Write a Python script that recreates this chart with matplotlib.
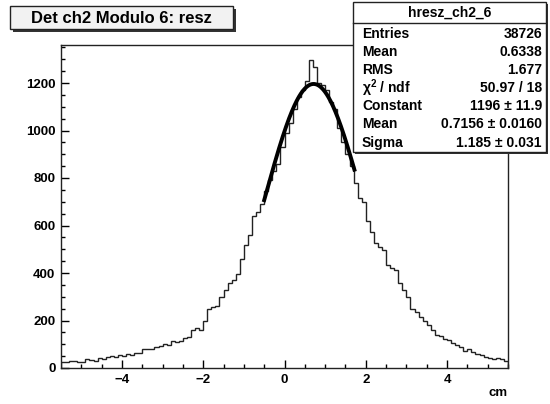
import numpy as np
import matplotlib
matplotlib.use('Agg')
import matplotlib.pyplot as plt
from matplotlib.patches import Rectangle

# histogram: 110 bins of 0.1 cm from -5.5 to 5.5
x_lo, x_hi = -5.5, 5.5
counts = [
    25, 24, 30, 30, 27, 25, 36, 33, 30, 42,
    40, 45, 50, 46, 55, 52, 60, 56, 62, 65,
    78, 78, 78, 88, 92, 102, 98, 112, 108, 115,
    126, 132, 160, 168, 158, 200, 250, 258, 262, 300,
    330, 356, 370, 395, 460, 520, 560, 640, 655, 690,
    745, 790, 830, 860, 930, 990, 1030, 1090, 1140, 1170,
    1210, 1296, 1266, 1199, 1190, 1170, 1120, 1090, 1010, 950,
    900, 850, 777, 715, 698, 621, 571, 528, 510, 495,
    432, 420, 411, 360, 330, 300, 250, 235, 215, 200,
    180, 162, 140, 135, 122, 118, 104, 98, 87, 70,
    82, 68, 60, 55, 48, 44, 38, 42, 36, 28,
]

# gaus fit parameters from the stats box
fit_const, fit_mean, fit_sigma = 1196.0, 0.7156, 1.185
fit_range = (-0.5, 1.72)

stats_title = 'hresz_ch2_6'
stats_names = ['Entries', 'Mean', 'RMS', r'$\chi^{2}$ / ndf', 'Constant', 'Mean', 'Sigma']
stats_values = ['38726', '0.6338', '1.677', '50.97 / 18',
                '1196 ± 11.9', '0.7156 ± 0.0160', '1.185 ± 0.031']

plt.rcParams['font.family'] = ['Liberation Sans', 'DejaVu Sans']
plt.rcParams['font.weight'] = 'bold'
plt.rcParams['mathtext.default'] = 'regular'

W, H = 550, 404
fig = plt.figure(figsize=(W / 100, H / 100), dpi=100)
fig.patch.set_facecolor('white')


def px(x, y):
    return x / W, 1 - y / H


ax = fig.add_axes([61 / W, 1 - 368 / H, (508 - 61) / W, (368 - 45) / H])
edges = np.linspace(x_lo, x_hi, len(counts) + 1)
ax.stairs(counts, edges, color='#222222', lw=1.0)

xf = np.linspace(fit_range[0], fit_range[1], 200)
ax.plot(xf, fit_const * np.exp(-0.5 * ((xf - fit_mean) / fit_sigma) ** 2),
        color='black', lw=2.8)

ax.set_xlim(x_lo, x_hi)
ax.set_ylim(0, 1360)
ax.set_xticks([-4, -2, 0, 2, 4])
ax.set_xticks(np.arange(-5.0, 5.51, 0.5), minor=True)
ax.set_yticks(range(0, 1201, 200))
ax.set_yticks(range(0, 1351, 50), minor=True)
ax.tick_params(direction='in', length=6, width=1, labelsize=9.5, pad=4)
ax.tick_params(which='minor', direction='in', length=3, width=1)
ax.tick_params(top=False, right=False)
for lab in ax.get_xticklabels() + ax.get_yticklabels():
    lab.set_fontweight('bold')
for s in ax.spines.values():
    s.set_linewidth(1.0)
    s.set_color('#222222')

fig.text(*px(508, 393), 'cm', ha='right', va='center', fontsize=9.5, fontweight='bold')

# title box with shadow
x0, y0, x1, y1 = 10, 6, 233, 29
fig.patches.append(Rectangle(px(x0 + 3, y1 + 3), (x1 - x0) / W, (y1 - y0) / H,
                             transform=fig.transFigure, facecolor='#333333',
                             edgecolor='none', zorder=5))
fig.patches.append(Rectangle(px(x0, y1), (x1 - x0) / W, (y1 - y0) / H,
                             transform=fig.transFigure, facecolor='#f2f2f2',
                             edgecolor='#222222', lw=1, zorder=6))
fig.text(*px((x0 + x1) / 2, (y0 + y1) / 2 + 1), 'Det ch2 Modulo 6: resz',
         ha='center', va='center', fontsize=12, fontweight='bold', zorder=7)

# stats box
sx0, sy0, sx1, sy1 = 353, 2, 546, 152
fig.patches.append(Rectangle(px(sx0 + 2, sy1 + 2), (sx1 - sx0) / W, (sy1 - sy0) / H,
                             transform=fig.transFigure, facecolor='#333333',
                             edgecolor='none', zorder=5))
fig.patches.append(Rectangle(px(sx0, sy1), (sx1 - sx0) / W, (sy1 - sy0) / H,
                             transform=fig.transFigure, facecolor='white',
                             edgecolor='#222222', lw=1, zorder=6))
fig.add_artist(plt.Line2D([sx0 / W, sx1 / W], [1 - 23 / H, 1 - 23 / H],
                          transform=fig.transFigure, color='#222222', lw=1, zorder=7))
fig.text(*px((sx0 + sx1) / 2, 13), stats_title, ha='center', va='center',
         fontsize=10, fontweight='bold', zorder=7)
for i, (name, val) in enumerate(zip(stats_names, stats_values)):
    yy = 33.5 + i * 18.2
    fig.text(*px(sx0 + 9, yy), name, ha='left', va='center',
             fontsize=10, fontweight='bold', zorder=7)
    fig.text(*px(sx1 - 4, yy), val, ha='right', va='center',
             fontsize=10, fontweight='bold', zorder=7)

fig.savefig('out.png', dpi=100, facecolor='white')
